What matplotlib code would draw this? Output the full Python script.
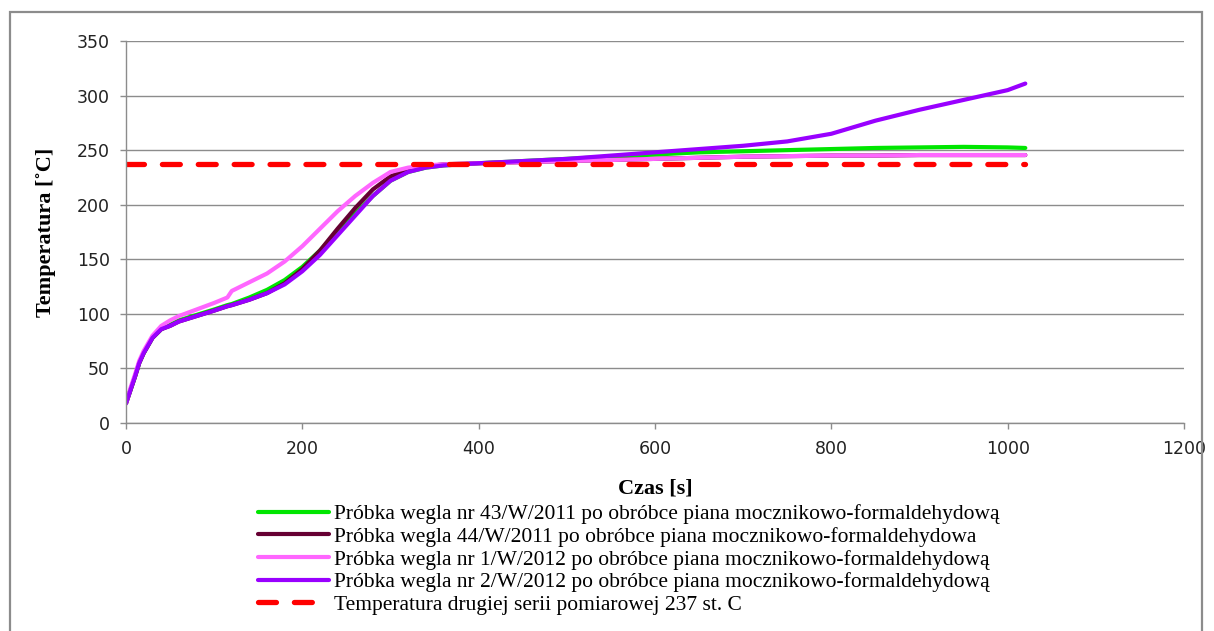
import matplotlib
matplotlib.use("Agg")
import matplotlib.pyplot as plt
from matplotlib.patches import Rectangle

# ---- data ----
time_s = [0, 5, 10, 15, 20, 30, 40, 50, 60, 80, 100, 115, 120, 140, 160, 180,
          200, 220, 240, 260, 280, 300, 320, 340, 360, 400, 450, 500, 550, 600,
          650, 700, 750, 800, 850, 900, 950, 1000, 1020]

temp_43_2011 = [18, 30, 42, 55, 64, 78, 86, 90, 94, 99, 104, 108, 109, 115, 122, 131,
                143, 158, 175, 192, 208, 222, 230, 234, 236, 238, 240, 242, 244, 246,
                248, 249, 250, 251, 252, 252.5, 253, 252.5, 252]

temp_44_2011 = [18, 30, 42, 55, 64, 78, 86, 89, 93, 98, 103, 107, 108, 113, 119, 128,
                141, 158, 178, 197, 214, 226, 232, 235, 237, 238, 239, 240, 241, 242,
                243, 244, 244.5, 245, 245, 245.5, 245.5, 245.5, 245.5]

temp_1_2012 = [18, 32, 44, 57, 66, 80, 89, 94, 98, 104, 110, 115, 121, 129, 137, 148,
               162, 178, 194, 208, 220, 230, 234, 236, 237, 238, 239, 240, 241, 242,
               243, 244, 244.5, 245, 245, 245.5, 245.5, 245.5, 245.5]

temp_2_2012 = [18, 30, 42, 55, 64, 78, 86, 89, 93, 98, 103, 107, 108, 113, 119, 127,
               139, 154, 172, 190, 208, 222, 230, 234, 236, 238, 240, 242, 245, 248,
               251, 254, 258, 265, 277, 287, 296, 305, 311]

ref_time = [0, 1020]
ref_temp = [237, 237]

labels = [
    "Próbka wegla nr 43/W/2011 po obróbce piana mocznikowo-formaldehydową",
    "Próbka wegla 44/W/2011 po obróbce piana mocznikowo-formaldehydowa",
    "Próbka wegla nr 1/W/2012 po obróbce piana mocznikowo-formaldehydową",
    "Próbka wegla nr 2/W/2012 po obróbce piana mocznikowo-formaldehydową",
    "Temperatura drugiej serii pomiarowej 237 st. C",
]

xticks = [0, 200, 400, 600, 800, 1000, 1200]
yticks = [0, 50, 100, 150, 200, 250, 300, 350]

# ---- figure ----
W, H = 1214, 631
fig = plt.figure(figsize=(W / 100, H / 100), dpi=100)
ax = fig.add_axes([126 / W, 1 - 423 / H, (1184 - 126) / W, (423 - 41) / H])

grid_col = "#8c8c8c"
ax.plot(time_s, temp_43_2011, color="#00e600", lw=3.0, label=labels[0], solid_capstyle="round")
ax.plot(time_s, temp_44_2011, color="#660033", lw=3.0, label=labels[1], solid_capstyle="round")
ax.plot(time_s, temp_1_2012, color="#ff66ff", lw=3.0, label=labels[2], solid_capstyle="round")
ax.plot(time_s, temp_2_2012, color="#9900ff", lw=3.0, label=labels[3], solid_capstyle="round")
ax.plot(ref_time, ref_temp, color="#ff0000", lw=3.8, dashes=(3.4, 3.4),
        dash_capstyle="round", label=labels[4])

ax.set_xlim(0, 1200)
ax.set_ylim(0, 350)
ax.set_xticks(xticks)
ax.set_yticks(yticks)
ax.yaxis.grid(True, color=grid_col, lw=1.0)
ax.set_axisbelow(True)
for s in ["top", "right"]:
    ax.spines[s].set_visible(False)
for s in ["left", "bottom"]:
    ax.spines[s].set_color(grid_col)
    ax.spines[s].set_linewidth(1.0)
ax.tick_params(axis="both", colors=grid_col, length=4.5, width=1.0, direction="out",
               labelcolor="#222222", labelsize=12.5)
ax.tick_params(axis="y", pad=7)
ax.tick_params(axis="x", pad=8)

ax.set_xlabel("Czas [s]", family="Liberation Serif", fontweight="bold", fontsize=16)
ax.set_ylabel("Temperatura [˚C]", family="Liberation Serif", fontweight="bold", fontsize=16)
ax.xaxis.set_label_coords(0.5, -0.145)
ax.yaxis.set_label_coords(-0.066, 0.5)

handles, labs = ax.get_legend_handles_labels()
leg = fig.legend(handles, labs, loc="center left",
                 bbox_to_anchor=(258 / W, 1 - 559.5 / H),
                 frameon=False, borderpad=0, borderaxespad=0,
                 handlelength=3.3, handletextpad=0.25, labelspacing=0.12,
                 prop={"family": "Liberation Serif", "size": 15.5})

fig.patches.append(Rectangle((10 / W, -0.05), (1202 - 10) / W, 1.05 - 12 / H,
                             transform=fig.transFigure, fill=False,
                             edgecolor="#8c8c8c", lw=1.6))

fig.savefig("out.png", dpi=100)
